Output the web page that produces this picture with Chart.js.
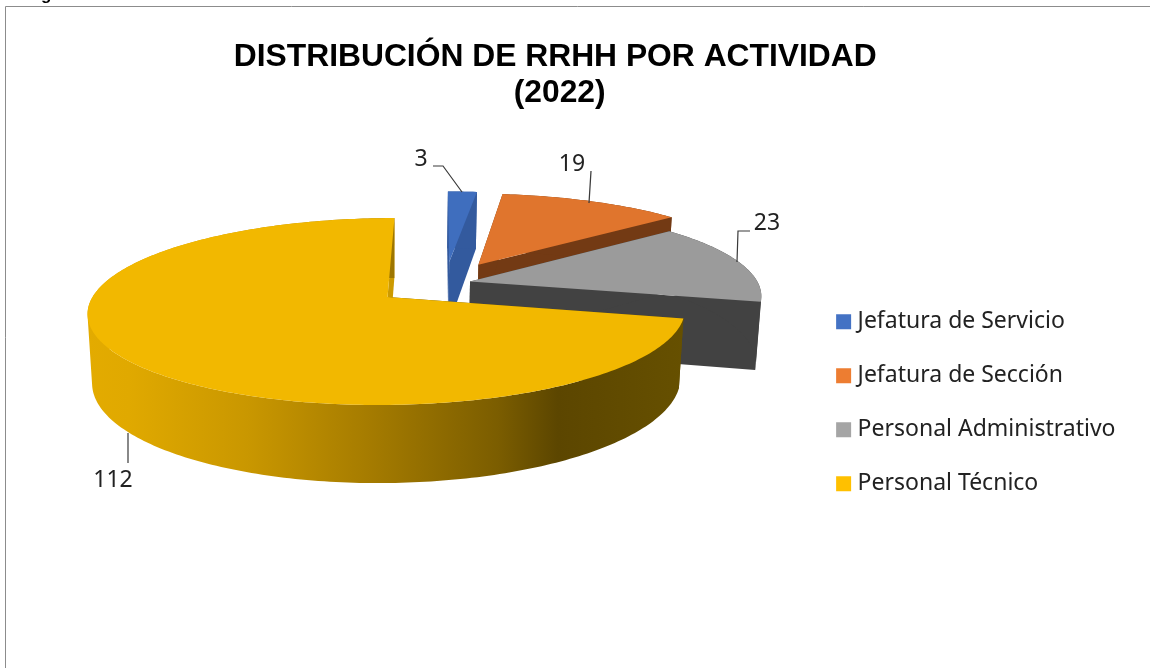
<!DOCTYPE html>
<html><head><meta charset="utf-8">
<style>html,body{margin:0;padding:0;background:#fff;overflow:hidden}canvas{display:block}</style>
<script src="https://cdn.jsdelivr.net/npm/chart.js@4/dist/chart.umd.min.js"></script>
</head><body><div style="width:1150px;height:668px"><canvas id="c" width="1150" height="668"></canvas></div>
<script>
const categories = ["Jefatura de Servicio","Jefatura de Sección","Personal Administrativo","Personal Técnico"];
const values = [3,19,23,112];
const explosion = [0.255,0.25,0.089,0.25];
const legendColors = ["#4472C4","#ED7D31","#A5A5A5","#FFC000"];
const topColors = ["#3F6EBE","#E0752D","#9B9B9B","#F2B800"];
const wallColors = ["#335A9E","#733A14","#424242","#CC9A00"];
const titleLines = ["DISTRIBUCIÓN DE RRHH POR ACTIVIDAD","\u00A0(2022)"];

// perspective view of the pie disc
const view = {Ox:387.5,Oy:297,b:295,a:91.2,c:-8,k:0.155,m:0.015,h:68.8,Cu:0.196,Cv:-0.155};
function proj(u,v,z){const w=1-view.k*v+view.m*z;
  return [view.Ox+(view.b*u+view.c*v)/w, view.Oy+(view.a*v+view.h*z)/w];}
const labelPlace = [
 {text:[421,158],line:[[433,166],[443,166],[462,192]]},
 {text:[572,163],line:[[591,171],[589,203]]},
 {text:[767,222],line:[[750,231],[738,231],[737,262]]},
 {text:[113,479],line:[[128,433],[128,463]]}
];
function poly(ctx,pts,fill){ctx.beginPath();pts.forEach((p,i)=>i?ctx.lineTo(p[0],p[1]):ctx.moveTo(p[0],p[1]));ctx.closePath();ctx.fillStyle=fill;ctx.fill();}
function area(q){let s=0;q.forEach((p,i)=>{const r=q[(i+1)%q.length];s+=p[0]*r[1]-r[0]*p[1];});return s;}
const pie3d = {
 id:'pie3d',
 beforeDatasetDraw(chart,args){
  const ctx=chart.ctx, arcs=chart.getDatasetMeta(0).data;
  arcs.forEach((arc,i)=>{
   const t1=arc.startAngle+Math.PI/2, t2=arc.endAngle+Math.PI/2, mid=(t1+t2)/2;
   const cu=view.Cu+explosion[i]*Math.sin(mid), cv=view.Cv-explosion[i]*Math.cos(mid);
   const n=Math.max(4,Math.ceil((t2-t1)*180/Math.PI));
   const rimTop=[],rimBot=[];
   for(let s=0;s<=n;s++){const t=t1+(t2-t1)*s/n;const u=cu+Math.sin(t),v=cv-Math.cos(t);
     rimTop.push(proj(u,v,0));rimBot.push(proj(u,v,1));}
   const aTop=proj(cu,cv,0),aBot=proj(cu,cv,1);
   let rimFill=wallColors[i];
   if(i===3){const g=ctx.createLinearGradient(87,0,683,0);
     [[0,'#E3AB00'],[0.07,'#E0A900'],[0.27,'#C99700'],[0.47,'#A67C00'],[0.69,'#7B5D00'],[0.79,'#5C4600'],[1,'#665000']].forEach(s=>g.addColorStop(s[0],s[1]));
     rimFill=g;}
   poly(ctx,[aTop,rimTop[n],rimBot[n],aBot],wallColors[i]);
   poly(ctx,[aTop,rimTop[0],rimBot[0],aBot],i===3?'#665000':wallColors[i]);
   // rim wall: one path of consistently wound quads, so no seams appear
   ctx.beginPath();
   for(let s=0;s<n;s++){
     let q=[rimTop[s],rimTop[s+1],rimBot[s+1],rimBot[s]];
     if(area(q)<0)q=q.reverse();
     q.forEach((p,j)=>j?ctx.lineTo(p[0],p[1]):ctx.moveTo(p[0],p[1]));ctx.closePath();
   }
   ctx.fillStyle=rimFill;ctx.fill('nonzero');
   poly(ctx,[aTop].concat(rimTop),topColors[i]);
  });
  return false;
 },
 afterDraw(chart){
  const ctx=chart.ctx;ctx.save();
  ctx.strokeStyle='#3a3a3a';ctx.lineWidth=1.2;ctx.fillStyle='#222';
  ctx.font='23px "Noto Sans"';ctx.textAlign='center';ctx.textBaseline='middle';
  values.forEach((val,i)=>{const L=labelPlace[i];
    ctx.fillText(String(val),L.text[0],L.text[1]+1);
    ctx.beginPath();L.line.forEach((p,j)=>j?ctx.lineTo(p[0],p[1]):ctx.moveTo(p[0],p[1]));ctx.stroke();});
  // chart frame
  ctx.strokeStyle='#8c8c8c';ctx.lineWidth=1;
  ctx.beginPath();ctx.moveTo(5.5,668);ctx.lineTo(5.5,6.5);ctx.lineTo(1150,6.5);ctx.stroke();
  ctx.fillStyle='#000';ctx.font='bold 17px "Liberation Sans"';ctx.textAlign='left';ctx.textBaseline='alphabetic';
  ctx.fillText('Figura',26,0);
  ctx.restore();
 }
};
new Chart(document.getElementById('c'),{
 type:'pie',
 data:{labels:categories,datasets:[{data:values,backgroundColor:legendColors,borderWidth:0}]},
 plugins:[pie3d],
 options:{
  responsive:false,animation:false,
  layout:{padding:{top:39,right:24.5,left:-15,bottom:0}},
  plugins:{
   tooltip:{enabled:false},
   title:{display:true,text:titleLines,color:'#000',font:{family:'"Liberation Sans"',weight:'bold',size:31.8,lineHeight:1.14},padding:{top:0,bottom:26}},
   legend:{position:'right',fullSize:false,labels:{boxWidth:5,boxHeight:5,padding:31,color:'#222',font:{family:'"Noto Sans"',size:23},
     generateLabels(chart){return categories.map((t,i)=>({text:t,fillStyle:legendColors[i],strokeStyle:legendColors[i],lineWidth:10,fontColor:'#222',index:i,hidden:false}));}}}
  }
 }
});
</script></body></html>
